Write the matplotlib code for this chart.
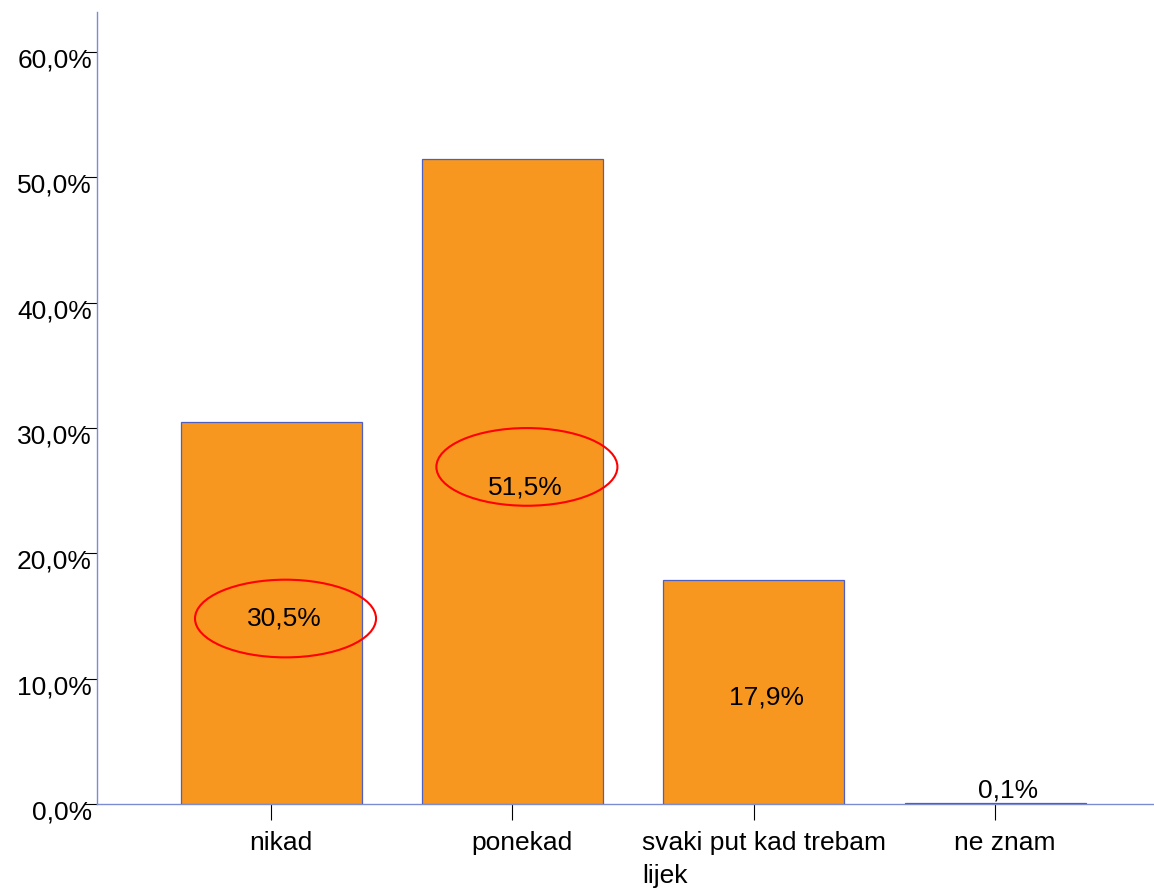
import matplotlib.pyplot as plt
import matplotlib.transforms as mtransforms
from matplotlib.patches import Ellipse

plt.rcParams['font.family'] = ['Liberation Sans', 'DejaVu Sans']

categories = ["nikad", "ponekad", "svaki put kad trebam\nlijek", "ne znam"]
percent = [30.5, 51.5, 17.9, 0.1]
value_labels = ["30,5%", "51,5%", "17,9%", "0,1%"]
y_ticks = [0, 10, 20, 30, 40, 50, 60]
y_tick_labels = ["0,0%", "10,0%", "20,0%", "30,0%", "40,0%", "50,0%", "60,0%"]

# red circles drawn over the chart (bar index, height in %)
circled = [0, 1]
circle_y = [14.8, 26.9]

bar_color = "#F8971F"
edge_color = "#4F5FC0"
spine_color = "#7C8CD2"

fig = plt.figure(figsize=(11.54, 8.93), dpi=100)
ax = fig.add_axes([97/1154, 89/893, 1 - 97/1154, 792/893])

x = list(range(len(categories)))
ax.bar(x, percent, width=0.75, color=bar_color, edgecolor=edge_color, linewidth=0.9, zorder=3)

ax.set_xlim(-0.721, 3.658)
ax.set_ylim(0, 63.2)

for side in ["top", "right"]:
    ax.spines[side].set_visible(False)
for side in ["left", "bottom"]:
    ax.spines[side].set_color(spine_color)
    ax.spines[side].set_linewidth(1.0)

ax.set_yticks(y_ticks)
ax.set_yticklabels(y_tick_labels, fontsize=19)
ax.tick_params(axis="y", length=9.4, width=0.8, color="black", pad=-5.8)

ax.set_xticks(x)
ax.set_xticklabels(categories, fontsize=19, multialignment="left", linespacing=1.45)
ax.tick_params(axis="x", length=11.5, width=0.8, color="black", pad=8)

# labels sit a bit off their ticks
dy = mtransforms.ScaledTranslation(0, -6/100, fig.dpi_scale_trans)
for lab in ax.get_yticklabels():
    lab.set_transform(lab.get_transform() + dy)
dx = mtransforms.ScaledTranslation(10/100, 0, fig.dpi_scale_trans)
for lab in ax.get_xticklabels():
    lab.set_transform(lab.get_transform() + dx)

for i, v in enumerate(percent):
    if v > 2:
        ax.annotate(value_labels[i], (i, v/2), xytext=(9.4, -4.3), textcoords="offset points",
                    ha="center", va="center", fontsize=19, zorder=5)
    else:
        ax.annotate(value_labels[i], (i, v), xytext=(9.4, 0), textcoords="offset points",
                    ha="center", va="bottom", fontsize=19, zorder=5)

for i, cy in zip(circled, circle_y):
    ell = Ellipse((i + 0.06, cy), width=0.75, height=6.2,
                  fill=False, edgecolor="#FF0000", linewidth=1.5, zorder=6)
    ax.add_patch(ell)

fig.savefig("out.png", dpi=100)
